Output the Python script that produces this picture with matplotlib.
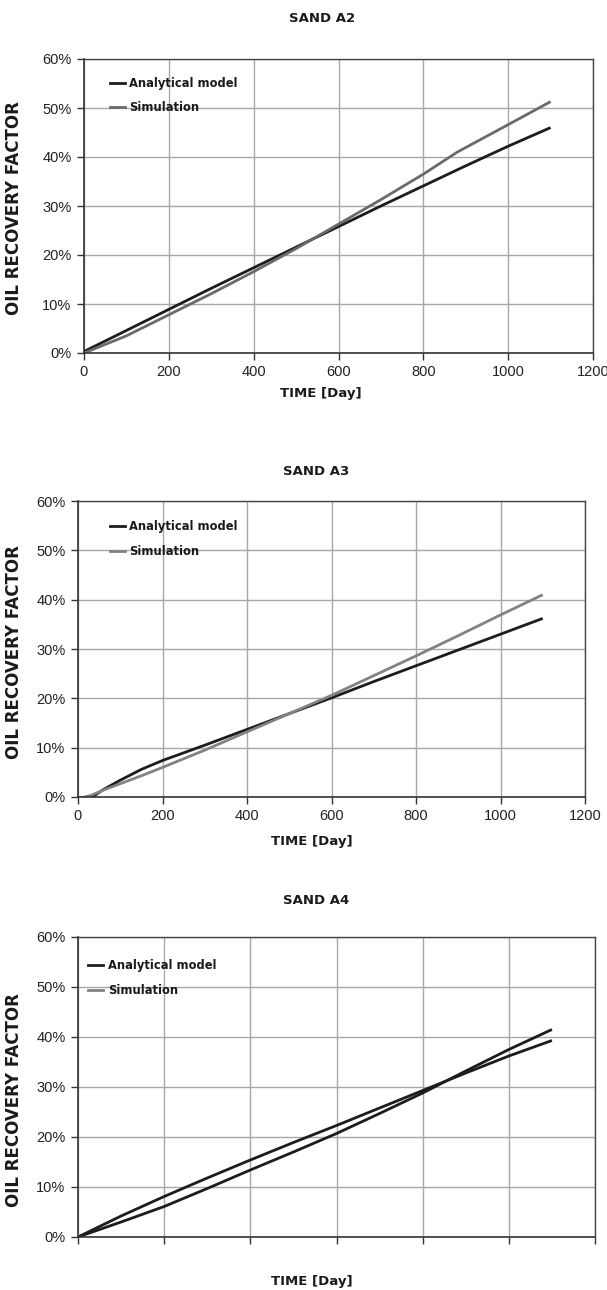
import matplotlib
matplotlib.use("Agg")
import matplotlib.pyplot as plt
from matplotlib.ticker import PercentFormatter
from matplotlib.lines import Line2D

# ---- data ----
titles = ["SAND A2", "SAND A3", "SAND A4"]
series_names = ["Analytical model", "Simulation"]

a2_days = [0, 100, 200, 300, 400, 500, 600, 700, 800, 900, 1000, 1100]
a2_analytical = [0.3, 4.6, 8.9, 13.2, 17.4, 21.6, 25.8, 30.0, 34.1, 38.2, 42.2, 46.0]
a2_sim_days = [0, 100, 200, 300, 400, 500, 600, 700, 800, 880, 1000, 1100]
a2_simulation = [0.0, 3.5, 7.8, 12.1, 16.6, 21.3, 26.3, 31.3, 36.5, 41.0, 46.6, 51.3]

a3_days = [15, 30, 60, 100, 150, 200, 300, 400, 500, 600, 700, 800, 900, 1000, 1100]
a3_analytical = [-0.3, -0.2, 1.5, 3.4, 5.6, 7.4, 10.5, 13.7, 16.9, 20.1, 23.4, 26.6, 29.8, 33.0, 36.2]
a3_sim_days = [5, 30, 60, 100, 150, 200, 300, 400, 500, 600, 700, 800, 900, 1000, 1100]
a3_simulation = [-0.2, 0.3, 1.4, 2.7, 4.3, 6.0, 9.5, 13.2, 16.9, 20.6, 24.6, 28.6, 32.7, 36.9, 41.0]

a4_days = [0, 100, 200, 300, 400, 500, 600, 700, 800, 900, 1000, 1100]
a4_analytical = [0.0, 4.2, 8.1, 11.8, 15.4, 18.9, 22.3, 25.8, 29.3, 32.8, 36.2, 39.3]
a4_simulation = [0.0, 3.0, 6.1, 9.7, 13.4, 17.0, 20.7, 24.7, 28.8, 33.2, 37.5, 41.5]

y_ticks = [0, 10, 20, 30, 40, 50, 60]
x_ticks = [0, 200, 400, 600, 800, 1000, 1200]

panels = [
    (a2_days, a2_analytical, a2_sim_days, a2_simulation),
    (a3_days, a3_analytical, a3_sim_days, a3_simulation),
    (a4_days, a4_analytical, a4_days, a4_simulation),
]

# ---- style ----
tick_font = ["Liberation Sans", "DejaVu Sans"]
bold_font = ["DejaVu Sans"]
analytical_colors = ["#1c1c1c", "#1c1c1c", "#1c1c1c"]
sim_colors = ["#6a6a6a", "#828282", "#1c1c1c"]
legend_sim_colors = ["#6a6a6a", "#828282", "#828282"]

fig = plt.figure(figsize=(6.07, 12.9), dpi=100)

H = 1290.0
W = 607.0
def rect_px(left, right, top, bottom):
    return [left / W, 1 - bottom / H, (right - left) / W, (bottom - top) / H]

rects = [
    rect_px(84, 593, 59, 353),
    rect_px(78, 585, 501, 797),
    rect_px(78, 595, 937, 1237),
]
title_pos = [(322, 18), (316, 471), (316, 901)]
xlabel_pos = [(321, 394), (312, 841), (312, 1281)]
ylabel_y = [208, 652, 1100]
legend_anchor = [(0.030, 0.975), (0.042, 0.97), (0.0, 0.96)]

for i, (rect, (xa, ya, xs, ys)) in enumerate(zip(rects, panels)):
    ax = fig.add_axes(rect)
    ax.plot(xa, ya, color=analytical_colors[i], lw=2.0, solid_capstyle="butt")
    ax.plot(xs, ys, color=sim_colors[i], lw=2.0, solid_capstyle="butt")
    ax.set_xlim(0, 1200)
    ax.set_ylim(0, 60)
    ax.set_xticks(x_ticks)
    ax.set_yticks(y_ticks)
    ax.yaxis.set_major_formatter(PercentFormatter(decimals=0))
    if i == 2:
        ax.set_xticklabels([])
    ax.grid(True, color="#a8a8a8", lw=1.0)
    ax.set_axisbelow(True)
    for side in ["left", "bottom"]:
        ax.spines[side].set_color("#333333")
        ax.spines[side].set_linewidth(1.2)
    for side in ["right", "top"]:
        ax.spines[side].set_color("#444444")
        ax.spines[side].set_linewidth(1.0)
    ax.tick_params(direction="out", length=5, width=1.0, color="#333333",
                   labelsize=10.5, labelcolor="#222222", pad=4)
    for lab in ax.get_xticklabels() + ax.get_yticklabels():
        lab.set_family(tick_font)

    handles = [Line2D([], [], color=analytical_colors[i], lw=2.0),
               Line2D([], [], color=legend_sim_colors[i], lw=2.0)]
    leg = ax.legend(handles, series_names, loc="upper left", bbox_to_anchor=legend_anchor[i],
                    frameon=False, handlelength=1.3, handletextpad=0.4, labelspacing=1.0,
                    prop={"family": bold_font, "weight": "bold", "size": 8.3})
    for t in leg.get_texts():
        t.set_color("#1a1a1a")

    fig.text(title_pos[i][0] / W, 1 - title_pos[i][1] / H, titles[i], ha="center", va="center",
             family=bold_font, weight="bold", size=9.5, color="#1a1a1a")
    fig.text(xlabel_pos[i][0] / W, 1 - xlabel_pos[i][1] / H, "TIME [Day]", ha="center", va="center",
             family=bold_font, weight="bold", size=9.5, color="#1a1a1a")
    fig.text(14.5 / W, 1 - ylabel_y[i] / H, "OIL RECOVERY FACTOR", ha="center", va="center",
             rotation=90, family=bold_font, weight="bold", size=12, color="#1a1a1a")

fig.savefig("out.png", dpi=100)
